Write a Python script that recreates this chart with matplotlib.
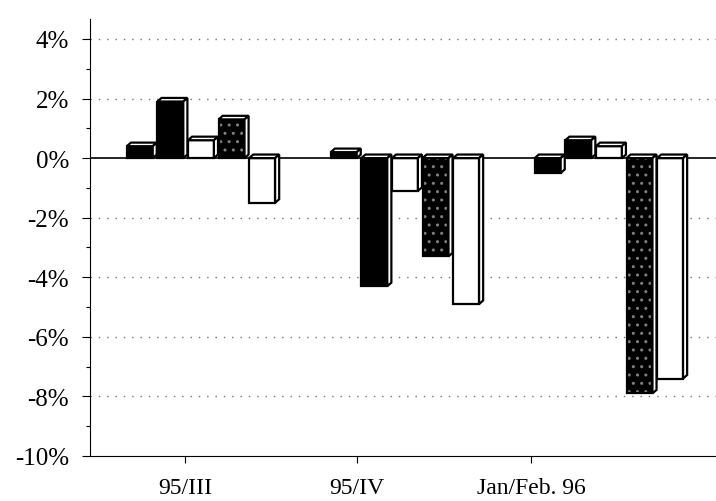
import numpy as np
import matplotlib
matplotlib.use('Agg')
import matplotlib.pyplot as plt
from matplotlib.patches import Polygon, Rectangle
from matplotlib.ticker import MultipleLocator, FuncFormatter

# data (percent change)
periods = ['95/III', '95/IV', 'Jan/Feb. 96']
s1 = [0.4, 0.2, -0.5]
s2 = [1.9, -4.3, 0.6]
s3 = [0.6, -1.1, 0.4]
s4 = [1.3, -3.3, -7.9]
s5 = [-1.5, -4.9, -7.4]
series = [s1, s2, s3, s4, s5]

# front face style per series: (facecolor, hatch)
styles = [('black', None), ('black', None), ('white', None),
          ('black', '..'), ('white', None)]

plt.rcParams['font.family'] = ['Liberation Serif', 'DejaVu Serif']

fig = plt.figure(figsize=(7.16, 5.02), dpi=100)
ax = fig.add_axes([90/716, 1-457/502, 1-90/716, (457-20)/502])

step = 0.15      # distance between bars in a group
w = 0.127        # front face width
dx, dy = 0.02, 0.12   # depth offset

for k, vals in enumerate(series):
    fc, hatch = styles[k]
    for g, v in enumerate(vals):
        x = g + (k - 2) * step - w/2
        lo, hi = min(v, 0), max(v, 0)
        z = 3 + k
        # front
        if hatch:
            ax.add_patch(Rectangle((x, lo), w, hi-lo, facecolor='black',
                                   edgecolor='0.5', hatch=hatch, lw=0, zorder=z))
            ax.add_patch(Rectangle((x, lo), w, hi-lo, fill=False,
                                   edgecolor='black', lw=1.6, zorder=z))
        else:
            ax.add_patch(Rectangle((x, lo), w, hi-lo, facecolor=fc,
                                   edgecolor='black', lw=1.6, zorder=z))
        # top face
        ax.add_patch(Polygon([(x, hi), (x+w, hi), (x+w+dx, hi+dy), (x+dx, hi+dy)],
                             closed=True, facecolor='white', edgecolor='black',
                             lw=1.6, zorder=z))
        # side face
        ax.add_patch(Polygon([(x+w, lo), (x+w+dx, lo+dy), (x+w+dx, hi+dy), (x+w, hi)],
                             closed=True, facecolor='white', edgecolor='black',
                             lw=1.6, zorder=z))

ax.axhline(0, color='black', lw=1.2, zorder=2)

ax.set_xlim(-0.544, 2.525)
ax.set_ylim(-10, 4.67)

ax.yaxis.set_major_locator(MultipleLocator(2))
ax.yaxis.set_minor_locator(MultipleLocator(1))
ax.yaxis.set_major_formatter(FuncFormatter(lambda v, p: '%d%%' % round(v)))
for yv in [4, 2, -2, -4, -6, -8]:
    ax.axhline(yv, color='0.45', lw=1, ls=(0, (1, 5)), zorder=1)

ax.set_xticks([-0.078, 0.765, 1.62])
ax.set_xticklabels(periods)

ax.tick_params(axis='y', which='major', length=6, width=0.8, labelsize=18, pad=9)
ax.tick_params(axis='y', which='minor', length=3, width=0.8)
ax.tick_params(axis='x', length=5, width=0.8, labelsize=17, pad=10)

ax.spines['top'].set_visible(False)
ax.spines['right'].set_visible(False)
ax.spines['left'].set_linewidth(0.8)
ax.spines['bottom'].set_linewidth(0.8)

fig.savefig('out.png', dpi=100)
